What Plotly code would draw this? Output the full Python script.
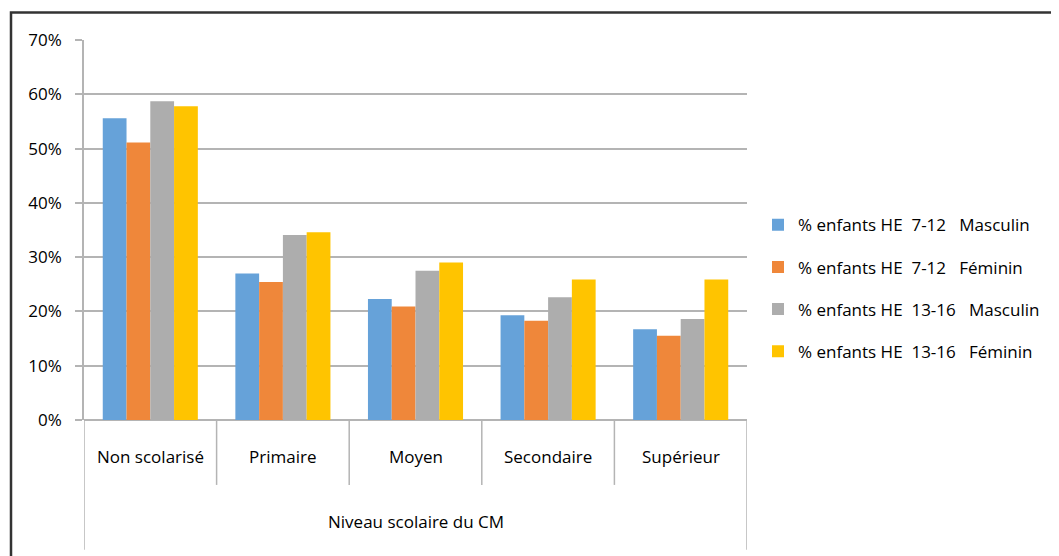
import plotly.graph_objects as go

categories = ["Non scolarisé", "Primaire", "Moyen", "Secondaire", "Supérieur"]
axis_group = "Niveau scolaire du CM"
series_names = [
    "% enfants HE\u00a0 7-12\u00a0\u00a0 Masculin",
    "% enfants HE\u00a0 7-12\u00a0\u00a0 Féminin",
    "% enfants HE\u00a0 13-16\u00a0\u00a0 Masculin",
    "% enfants HE\u00a0 13-16\u00a0\u00a0 Féminin",
]
m_7_12 = [0.556, 0.270, 0.223, 0.193, 0.167]
f_7_12 = [0.511, 0.254, 0.209, 0.183, 0.155]
m_13_16 = [0.587, 0.341, 0.275, 0.226, 0.186]
f_13_16 = [0.578, 0.346, 0.290, 0.259, 0.259]
series_values = [m_7_12, f_7_12, m_13_16, f_13_16]
colors = ["#66A2D9", "#EF873A", "#ADADAD", "#FFC400"]
y_ticks = [0, 0.1, 0.2, 0.3, 0.4, 0.5, 0.6, 0.7]

FONT = "'Open Sans', sans-serif"
TXT = "#000000"
# page body has an 8px margin: work in screen pixels and subtract it
O = 8
W, H = 1059, 556
PL, PR, PT, PB = 84 - O, 747 - O, 39.5 - O, 420 - O  # plot area in figure px
pw, ph = PR - PL, PB - PT

fig = go.Figure()
for i, (name, vals, col) in enumerate(zip(series_names, series_values, colors)):
    fig.add_trace(go.Bar(
        x=list(range(len(categories))), y=vals, name=name,
        marker=dict(color=col, line=dict(width=0)),
        legendgroup=f"g{i}",
    ))

grid = "#B4B4B4"

def px_x(p):
    return (p - O - PL) / pw

def px_y(p):
    return (PB - (p - O)) / ph

shapes = []
n = len(categories)
for k in range(n + 1):
    bottom = 550 if k in (0, n) else 485
    shapes.append(dict(type="line", xref="x", yref="paper",
                       x0=k - 0.5, x1=k - 0.5, y0=0, y1=px_y(bottom),
                       line=dict(color=grid, width=1.5)))
# outer frame
shapes.append(dict(type="rect", xref="paper", yref="paper",
                   x0=px_x(11), x1=px_x(1080), y0=px_y(580), y1=px_y(12),
                   line=dict(color="#333333", width=2.5)))

annotations = []
for k, c in enumerate(categories):
    annotations.append(dict(x=k, y=px_y(457), xref="x", yref="paper",
                            text=c, showarrow=False, yanchor="middle",
                            font=dict(family=FONT, size=17, color=TXT)))
annotations.append(dict(x=(n - 1) / 2, y=px_y(522), xref="x", yref="paper",
                        text=axis_group, showarrow=False, yanchor="middle",
                        font=dict(family=FONT, size=17, color=TXT)))

fig.update_layout(
    width=W, height=H,
    margin=dict(l=PL, r=W - PR, t=PT, b=H - PB, autoexpand=False),
    paper_bgcolor="white", plot_bgcolor="white",
    barmode="group", bargap=0.283, bargroupgap=0,
    font=dict(family=FONT, size=17, color=TXT),
    xaxis=dict(range=[-0.5, n - 0.5], showticklabels=False, ticks="",
               showgrid=False, zeroline=False, showline=False, fixedrange=True),
    yaxis=dict(range=[0, 0.7], tickvals=y_ticks, tickformat=".0%",
               showgrid=True, gridcolor=grid, gridwidth=1.5,
               showline=True, linecolor=grid, linewidth=1.5,
               ticks="outside", ticklen=7, tickcolor=grid, tickwidth=1.5,
               zeroline=True, zerolinecolor=grid, zerolinewidth=1.5,
               tickfont=dict(family=FONT, size=17, color=TXT),
               ticklabelstandoff=10),
    legend=dict(x=px_x(758), y=px_y(207), xanchor="left", yanchor="top",
                font=dict(family=FONT, size=17, color=TXT),
                tracegroupgap=17, bgcolor="rgba(0,0,0,0)",
                itemclick=False, itemdoubleclick=False),
    shapes=shapes, annotations=annotations,
    showlegend=True,
)

fig.write_html("out.html")
